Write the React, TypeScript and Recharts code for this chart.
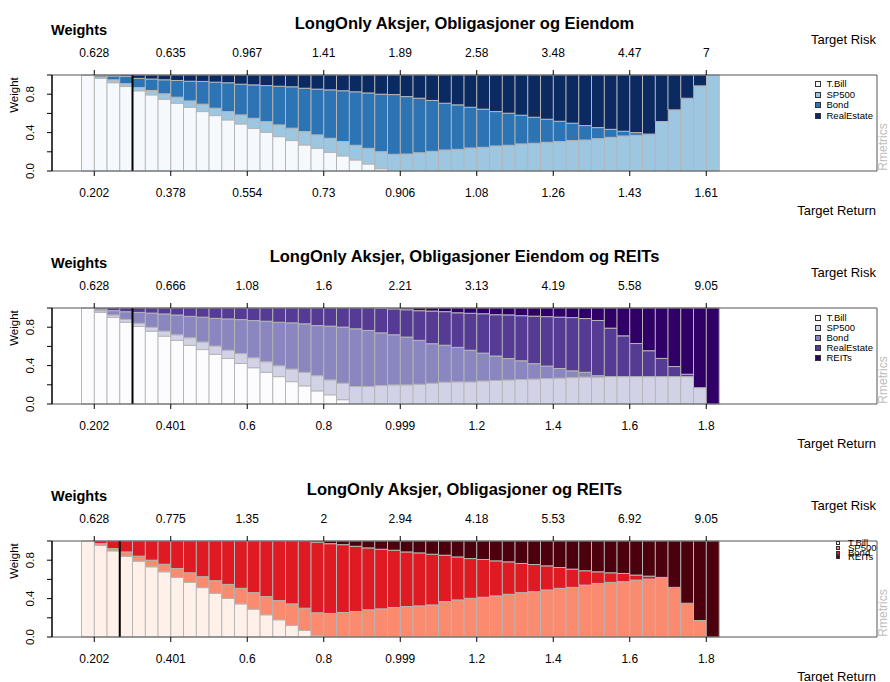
import React from 'react';
import { BarChart, Bar, XAxis, YAxis, ReferenceLine } from 'recharts';

// frontier points on the x axis, and the points that carry a tick
const points = [
  1, 2, 3, 4, 5, 6, 7, 8, 9, 10, 11, 12, 13, 14, 15, 16, 17, 18, 19, 20, 21, 22, 23, 24, 25,
  26, 27, 28, 29, 30, 31, 32, 33, 34, 35, 36, 37, 38, 39, 40, 41, 42, 43, 44, 45, 46, 47, 48, 49, 50,
];
const tickPoints = [1, 7, 13, 19, 25, 31, 37, 43, 49];
const weightTicks = [0, 0.2, 0.4, 0.6, 0.8, 1];
const weightLabels = [0, 0.4, 0.8];

// --- panel 1: Aksjer, Obligasjoner og Eiendom
const p1Names = ['T.Bill', 'SP500', 'Bond', 'RealEstate'];
const p1Colors = ['#F5F9FE', '#9DC6E0', '#2D74B5', '#0B2A61'];
const p1TBill = [
  1, 0.965, 0.92, 0.88, 0.835, 0.793, 0.748, 0.706, 0.664, 0.619, 0.577, 0.532, 0.49, 0.445, 0.403,
  0.358, 0.317, 0.271, 0.237, 0.195, 0.157, 0.115, 0.073, 0.024, 0, 0, 0, 0, 0, 0, 0, 0, 0, 0, 0,
  0, 0, 0, 0, 0, 0, 0, 0, 0, 0, 0, 0, 0, 0, 0,
];
const p1SP500 = [
  0, 0.015, 0.03, 0.03, 0.035, 0.045, 0.056, 0.063, 0.066, 0.077, 0.077, 0.087, 0.094, 0.104, 0.111,
  0.122, 0.129, 0.139, 0.139, 0.146, 0.15, 0.153, 0.163, 0.177, 0.174, 0.177, 0.19, 0.205, 0.219, 0.226,
  0.24, 0.247, 0.261, 0.268, 0.282, 0.289, 0.299, 0.306, 0.317, 0.323, 0.337, 0.351, 0.365, 0.372, 0.38,
  0.515, 0.637, 0.758, 0.887, 1,
];
const p1Bond = [
  0, 0.015, 0.04, 0.075, 0.095, 0.12, 0.146, 0.174, 0.205, 0.237, 0.271, 0.3, 0.32, 0.348, 0.376,
  0.403, 0.431, 0.452, 0.477, 0.504, 0.529, 0.557, 0.577, 0.599, 0.622, 0.598, 0.568, 0.53, 0.487, 0.463,
  0.424, 0.397, 0.358, 0.334, 0.299, 0.271, 0.24, 0.212, 0.181, 0.15, 0.115, 0.083, 0.049, 0.028, 0.005,
  0, 0, 0, 0, 0,
];
const p1RealEstate = [
  0, 0.005, 0.01, 0.015, 0.035, 0.042, 0.05, 0.057, 0.065, 0.067, 0.075, 0.081, 0.096, 0.103, 0.11,
  0.117, 0.123, 0.138, 0.147, 0.155, 0.164, 0.175, 0.187, 0.2, 0.204, 0.225, 0.242, 0.265, 0.294, 0.311,
  0.336, 0.356, 0.381, 0.398, 0.419, 0.44, 0.461, 0.482, 0.502, 0.527, 0.548, 0.566, 0.586, 0.6, 0.615,
  0.485, 0.363, 0.242, 0.113, 0,
];
const p1Risk = ['0.628', '0.635', '0.967', '1.41', '1.89', '2.58', '3.48', '4.47', '7'];
const p1Return = ['0.202', '0.378', '0.554', '0.73', '0.906', '1.08', '1.26', '1.43', '1.61'];

// --- panel 2: Aksjer, Obligasjoner Eiendom og REITs
const p2Names = ['T.Bill', 'SP500', 'Bond', 'RealEstate', 'REITs'];
const p2Colors = ['#FCFBFD', '#D2D2E7', '#8A86BF', '#563B95', '#310066'];
const p2TBill = [
  1, 0.955, 0.903, 0.852, 0.807, 0.759, 0.707, 0.663, 0.611, 0.567, 0.518, 0.474, 0.422, 0.378, 0.33,
  0.285, 0.233, 0.189, 0.137, 0.096, 0.045, 0, 0, 0, 0, 0, 0, 0, 0, 0, 0, 0, 0, 0, 0,
  0, 0, 0, 0, 0, 0, 0, 0, 0, 0, 0, 0, 0, 0, 0,
];
const p2SP500 = [
  0, 0.017, 0.024, 0.03, 0.034, 0.04, 0.052, 0.058, 0.079, 0.079, 0.086, 0.086, 0.103, 0.103, 0.11,
  0.113, 0.131, 0.141, 0.158, 0.155, 0.172, 0.182, 0.182, 0.192, 0.199, 0.199, 0.206, 0.216, 0.227, 0.23,
  0.23, 0.24, 0.245, 0.25, 0.255, 0.26, 0.265, 0.27, 0.275, 0.28, 0.28, 0.285, 0.285, 0.285, 0.285,
  0.285, 0.285, 0.285, 0.17, 0,
];
const p2Bond = [
  0, 0.018, 0.045, 0.079, 0.113, 0.148, 0.179, 0.206, 0.223, 0.258, 0.288, 0.326, 0.354, 0.388, 0.422,
  0.453, 0.481, 0.505, 0.522, 0.56, 0.584, 0.601, 0.584, 0.549, 0.522, 0.498, 0.457, 0.412, 0.385, 0.36,
  0.33, 0.29, 0.255, 0.223, 0.195, 0.16, 0.13, 0.1, 0.07, 0.05, 0.015, 0, 0, 0, 0,
  0, 0, 0, 0, 0,
];
const p2RealEstate = [
  0, 0.01, 0.028, 0.039, 0.046, 0.053, 0.062, 0.073, 0.087, 0.096, 0.108, 0.114, 0.121, 0.131, 0.138,
  0.149, 0.155, 0.165, 0.183, 0.189, 0.199, 0.217, 0.234, 0.254, 0.27, 0.285, 0.309, 0.34, 0.35, 0.36,
  0.385, 0.41, 0.43, 0.455, 0.47, 0.495, 0.515, 0.535, 0.555, 0.56, 0.575, 0.505, 0.425, 0.345, 0.27,
  0.19, 0.105, 0.025, 0, 0,
];
const p2REITs = [
  0, 0, 0, 0, 0, 0, 0, 0, 0, 0, 0, 0, 0, 0, 0, 0, 0, 0, 0, 0, 0, 0, 0, 0.005, 0.009,
  0.018, 0.028, 0.032, 0.038, 0.05, 0.055, 0.06, 0.07, 0.072, 0.08, 0.085, 0.09, 0.095, 0.1, 0.11,
  0.13, 0.21, 0.29, 0.37, 0.445, 0.525, 0.61, 0.69, 0.83, 1,
];
const p2Risk = ['0.628', '0.666', '1.08', '1.6', '2.21', '3.13', '4.19', '5.58', '9.05'];
const p2Return = ['0.202', '0.401', '0.6', '0.8', '0.999', '1.2', '1.4', '1.6', '1.8'];

// --- panel 3: Aksjer, Obligasjoner og REITs
const p3Names = ['T.Bill', 'SP500', 'Bond', 'REITs'];
const p3Colors = ['#FFF0EA', '#FA8B6F', '#DF1A22', '#4C000D'];
const p3TBill = [
  1, 0.955, 0.897, 0.841, 0.79, 0.731, 0.679, 0.621, 0.569, 0.514, 0.455, 0.403, 0.345, 0.29, 0.231,
  0.179, 0.121, 0.069, 0.012, 0, 0, 0, 0, 0, 0, 0, 0, 0, 0, 0, 0, 0, 0, 0, 0,
  0, 0, 0, 0, 0, 0, 0, 0, 0, 0, 0, 0, 0, 0, 0,
];
const p3SP500 = [
  0, 0.017, 0.024, 0.045, 0.052, 0.069, 0.079, 0.093, 0.1, 0.114, 0.131, 0.145, 0.162, 0.172, 0.19,
  0.2, 0.224, 0.231, 0.24, 0.245, 0.255, 0.266, 0.283, 0.293, 0.307, 0.317, 0.324, 0.334, 0.369, 0.386,
  0.403, 0.414, 0.428, 0.445, 0.462, 0.472, 0.49, 0.507, 0.517, 0.541, 0.558, 0.569, 0.576, 0.593, 0.603,
  0.621, 0.517, 0.352, 0.172, 0,
];
const p3Bond = [
  0, 0.028, 0.079, 0.114, 0.158, 0.2, 0.242, 0.286, 0.331, 0.372, 0.414, 0.452, 0.493, 0.538, 0.579,
  0.621, 0.655, 0.7, 0.735, 0.727, 0.707, 0.679, 0.645, 0.621, 0.597, 0.569, 0.552, 0.528, 0.483, 0.448,
  0.414, 0.393, 0.365, 0.338, 0.304, 0.283, 0.251, 0.217, 0.19, 0.149, 0.121, 0.1, 0.086, 0.052, 0.031,
  0, 0, 0, 0, 0,
];
const p3REITs = [
  0, 0, 0, 0, 0, 0, 0, 0, 0, 0, 0, 0, 0, 0, 0, 0, 0, 0, 0.013, 0.028, 0.038, 0.055, 0.072, 0.086, 0.096,
  0.114, 0.124, 0.138, 0.148, 0.166, 0.183, 0.193, 0.207, 0.217, 0.234, 0.245, 0.259, 0.276, 0.293, 0.31,
  0.321, 0.331, 0.338, 0.355, 0.366, 0.379, 0.483, 0.648, 0.828, 1,
];
const p3Risk = ['0.628', '0.775', '1.35', '2', '2.94', '4.18', '5.53', '6.92', '9.05'];
const p3Return = ['0.202', '0.401', '0.6', '0.8', '0.999', '1.2', '1.4', '1.6', '1.8'];

// layout (pixels inside one panel)
const CHART_W = 890;
const CHART_H = 216;
const PLOT_TOP = 75;
const PLOT_H = 96;
const BAR_START = 81.5;
const BAR_END = 719;
const BAR_W = (BAR_END - BAR_START) / points.length;
const FONT = "'Liberation Sans', Arial, Helvetica, sans-serif";

const AxisTick = (props: any) => {
  const { x, y, payload, labels, side } = props;
  const k = tickPoints.indexOf(payload.value);
  const tx = x + BAR_W / 2;
  const dir = side === 'top' ? -1 : 1;
  return (
    <g>
      <line x1={tx} x2={tx} y1={y} y2={y + dir * 5} stroke="#000" strokeWidth={1} />
      <text x={tx} y={y + dir * 22} textAnchor="middle" dominantBaseline="central" fontSize={12} fill="#000">
        {labels[k]}
      </text>
    </g>
  );
};

const WeightTick = (props: any) => {
  const { x, y, payload } = props;
  if (!weightLabels.includes(payload.value)) return <g />;
  const tx = x - 17;
  return (
    <text x={tx} y={y} transform={`rotate(-90, ${tx}, ${y})`} textAnchor="middle" dominantBaseline="central" fontSize={11.5} fill="#000">
      {payload.value.toFixed(1)}
    </text>
  );
};

const Text = ({ x, y, anchor = 'middle', rotate = false, style, children }: any) => {
  const tx = anchor === 'middle' ? '-50%' : anchor === 'end' ? '-100%' : '0';
  return (
    <div
      style={{
        position: 'absolute',
        left: x,
        top: y,
        lineHeight: 1,
        whiteSpace: 'nowrap',
        transform: `translate(${tx}, -50%)${rotate ? ' rotate(-90deg)' : ''}`,
        ...style,
      }}
    >
      {children}
    </div>
  );
};

interface PanelProps {
  top: number;
  title: string;
  names: string[];
  colors: string[];
  series: number[][];
  risk: string[];
  ret: string[];
  minPoint: number;
  legend: { x: number; y: number; step: number; size: number; textX: number };
}

const Panel: React.FC<PanelProps> = ({ top, title, names, colors, series, risk, ret, minPoint, legend }) => {
  const rows = points.map((p, i) => {
    const row: Record<string, number> = { point: p };
    names.forEach((n, j) => {
      row[n] = series[j][i];
    });
    return row;
  });

  return (
    <div style={{ position: 'absolute', left: 0, top, width: CHART_W, height: CHART_H }}>
      <BarChart
        width={CHART_W}
        height={CHART_H}
        data={rows}
        margin={{ top: 45, right: 0, bottom: 15, left: 22 }}
        barCategoryGap={0}
        barGap={0}
      >
        <XAxis
          xAxisId="b"
          dataKey="point"
          type="category"
          height={30}
          padding={{ left: 29.5, right: 158 }}
          ticks={tickPoints}
          interval={0}
          tickLine={false}
          tickSize={0}
          tickMargin={0}
          axisLine={{ stroke: '#555' }}
          tick={(p: any) => <AxisTick {...p} labels={ret} side="bottom" />}
        />
        <XAxis
          xAxisId="t"
          orientation="top"
          dataKey="point"
          type="category"
          height={30}
          padding={{ left: 29.5, right: 158 }}
          ticks={tickPoints}
          interval={0}
          tickLine={false}
          tickSize={0}
          tickMargin={0}
          axisLine={{ stroke: '#555' }}
          tick={(p: any) => <AxisTick {...p} labels={risk} side="top" />}
        />
        <YAxis
          yAxisId="l"
          type="number"
          domain={[0, 1]}
          ticks={weightTicks}
          interval={0}
          width={30}
          tickSize={5}
          tickMargin={0}
          tickLine={{ stroke: '#000' }}
          axisLine={{ stroke: '#000', strokeWidth: 1.5 }}
          tick={WeightTick}
        />
        <YAxis
          yAxisId="r"
          orientation="right"
          type="number"
          domain={[0, 1]}
          width={13}
          tick={false}
          tickLine={false}
          axisLine={{ stroke: '#555' }}
        />
        {names.map((n, j) => (
          <Bar
            key={n}
            dataKey={n}
            stackId="w"
            xAxisId="b"
            yAxisId="l"
            fill={colors[j]}
            stroke="#B5B5B5"
            strokeWidth={1}
            isAnimationActive={false}
          />
        ))}
        <ReferenceLine
          xAxisId="b"
          yAxisId="l"
          x={minPoint}
          position="start"
          stroke="#000"
          strokeWidth={2}
        />
      </BarChart>

      <Text x={464.5} y={22.5} style={{ fontSize: 16.5, fontWeight: 700 }}>{title}</Text>
      <Text x={51} y={30} anchor="start" style={{ fontSize: 14.5, fontWeight: 700 }}>Weights</Text>
      <Text x={876} y={38.5} anchor="end" style={{ fontSize: 13 }}>Target Risk</Text>
      <Text x={876} y={PLOT_TOP + PLOT_H + 39} anchor="end" style={{ fontSize: 13 }}>Target Return</Text>
      <Text x={15} y={95} rotate style={{ fontSize: 11.5 }}>Weight</Text>
      <Text x={883} y={147} rotate style={{ fontSize: 12, color: '#BDBDBD' }}>Rmetrics</Text>

      {names.map((n, j) => (
        <React.Fragment key={n}>
          <div
            style={{
              position: 'absolute',
              left: legend.x - legend.size / 2,
              top: legend.y + j * legend.step - legend.size / 2,
              width: legend.size,
              height: legend.size,
              boxSizing: 'border-box',
              border: '1px solid #333',
              background: colors[j],
            }}
          />
          <Text x={legend.textX} y={legend.y + j * legend.step} anchor="start" style={{ fontSize: 9.5 }}>
            {n}
          </Text>
        </React.Fragment>
      ))}
    </div>
  );
};

export default function App() {
  return (
    <div
      style={{
        position: 'absolute',
        left: 0,
        top: 0,
        width: 890,
        height: 682,
        overflow: 'hidden',
        background: '#fff',
        fontFamily: FONT,
        color: '#000',
      }}
    >
      <Panel
        top={0}
        title="LongOnly Aksjer, Obligasjoner og Eiendom"
        names={p1Names}
        colors={p1Colors}
        series={[p1TBill, p1SP500, p1Bond, p1RealEstate]}
        risk={p1Risk}
        ret={p1Return}
        minPoint={5}
        legend={{ x: 818, y: 84, step: 10.6, size: 6, textX: 826.5 }}
      />
      <Panel
        top={233}
        title="LongOnly Aksjer, Obligasjoner Eiendom og REITs"
        names={p2Names}
        colors={p2Colors}
        series={[p2TBill, p2SP500, p2Bond, p2RealEstate, p2REITs]}
        risk={p2Risk}
        ret={p2Return}
        minPoint={5}
        legend={{ x: 818, y: 84.7, step: 10.15, size: 6, textX: 826.5 }}
      />
      <Panel
        top={466}
        title="LongOnly Aksjer, Obligasjoner og REITs"
        names={p3Names}
        colors={p3Colors}
        series={[p3TBill, p3SP500, p3Bond, p3REITs]}
        risk={p3Risk}
        ret={p3Return}
        minPoint={4}
        legend={{ x: 838, y: 76.7, step: 4.9, size: 4, textX: 848 }}
      />
    </div>
  );
}
